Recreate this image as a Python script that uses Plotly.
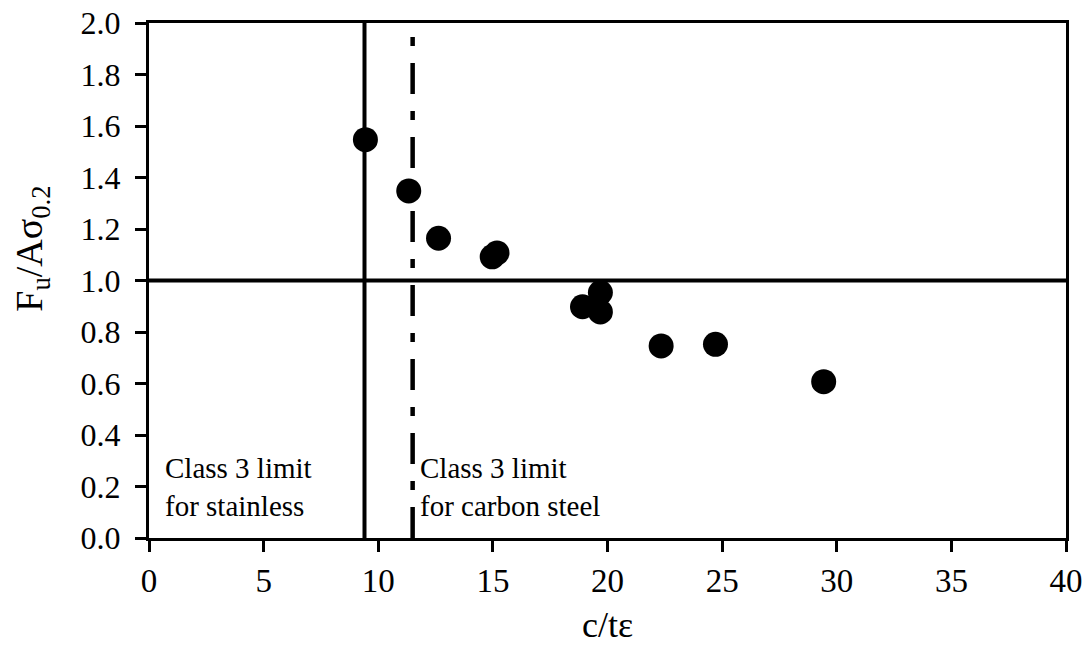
import plotly.graph_objects as go

# Data
ct_eps = [9.44, 11.33, 12.63, 14.97, 15.18, 18.91, 19.69, 19.69, 22.34, 24.71, 29.43]
fu_ratio = [1.547, 1.348, 1.164, 1.092, 1.107, 0.898, 0.953, 0.878, 0.746, 0.752, 0.607]

stainless_limit = 9.4
carbon_limit = 11.5
unity = 1.0

x_ticks = [0, 5, 10, 15, 20, 25, 30, 35, 40]
y_ticks = [0.0, 0.2, 0.4, 0.6, 0.8, 1.0, 1.2, 1.4, 1.6, 1.8, 2.0]

x_title = "c/tε"
y_title = "F<sub>u</sub>/Aσ<sub>0.2</sub>"

FONT = "Liberation Serif"

fig = go.Figure()

fig.add_trace(go.Scatter(
    x=ct_eps, y=fu_ratio, mode="markers",
    marker=dict(size=25, color="black"),
    showlegend=False,
))

# Reference lines
fig.add_shape(type="line", xref="x", yref="y", x0=stainless_limit, x1=stainless_limit, y0=0, y1=2,
              line=dict(color="black", width=4))
fig.add_shape(type="line", xref="x", yref="y", x0=carbon_limit, x1=carbon_limit, y0=0, y1=2,
              line=dict(color="black", width=4.5, dash="31px,17px,9px,17px"))
fig.add_shape(type="line", xref="x", yref="y", x0=0, x1=40, y0=unity, y1=unity,
              line=dict(color="black", width=4))

fig.add_annotation(x=0.6, y=0.2, xref="x", yref="y", xanchor="left", yanchor="middle",
                   text="Class 3 limit<br>for stainless", showarrow=False, align="left",
                   font=dict(family=FONT, size=29, color="black"))
fig.add_annotation(x=11.75, y=0.2, xref="x", yref="y", xanchor="left", yanchor="middle",
                   text="Class 3 limit<br>for carbon steel", showarrow=False, align="left",
                   font=dict(family=FONT, size=29, color="black"))

# Axis titles
fig.add_annotation(x=0.5, y=-0.168, xref="paper", yref="paper", xanchor="center", yanchor="middle",
                   text=x_title, showarrow=False, font=dict(family=FONT, size=36, color="black"))
fig.add_annotation(x=-0.127, y=0.561, xref="paper", yref="paper", xanchor="center", yanchor="middle",
                   text=y_title, showarrow=False, textangle=-90,
                   font=dict(family=FONT, size=38, color="black"))

fig.update_layout(
    template="none",
    width=1092, height=650,
    margin=dict(l=148.5, r=25.5, t=22.7, b=112, autoexpand=False),
    plot_bgcolor="white", paper_bgcolor="white",
    font=dict(family=FONT, color="black", size=32),
    xaxis=dict(range=[0, 40], tickvals=x_ticks, ticktext=[str(v) for v in x_ticks],
               showgrid=False, zeroline=False, showline=True, linecolor="black", linewidth=3,
               mirror=True, ticks="outside", ticklen=11, tickwidth=3, tickcolor="black",
               automargin=False,
               tickfont=dict(family=FONT, size=33)),
    yaxis=dict(range=[0, 2], tickvals=y_ticks, ticktext=[f"{v:.1f}" for v in y_ticks],
               showgrid=False, zeroline=False, showline=True, linecolor="black", linewidth=3,
               mirror=True, ticks="outside", ticklen=11, tickwidth=3, tickcolor="black",
               automargin=False, ticklabelposition="outside", ticklabelstandoff=8,
               tickfont=dict(family=FONT, size=32)),
)

fig.write_html("out.html")
